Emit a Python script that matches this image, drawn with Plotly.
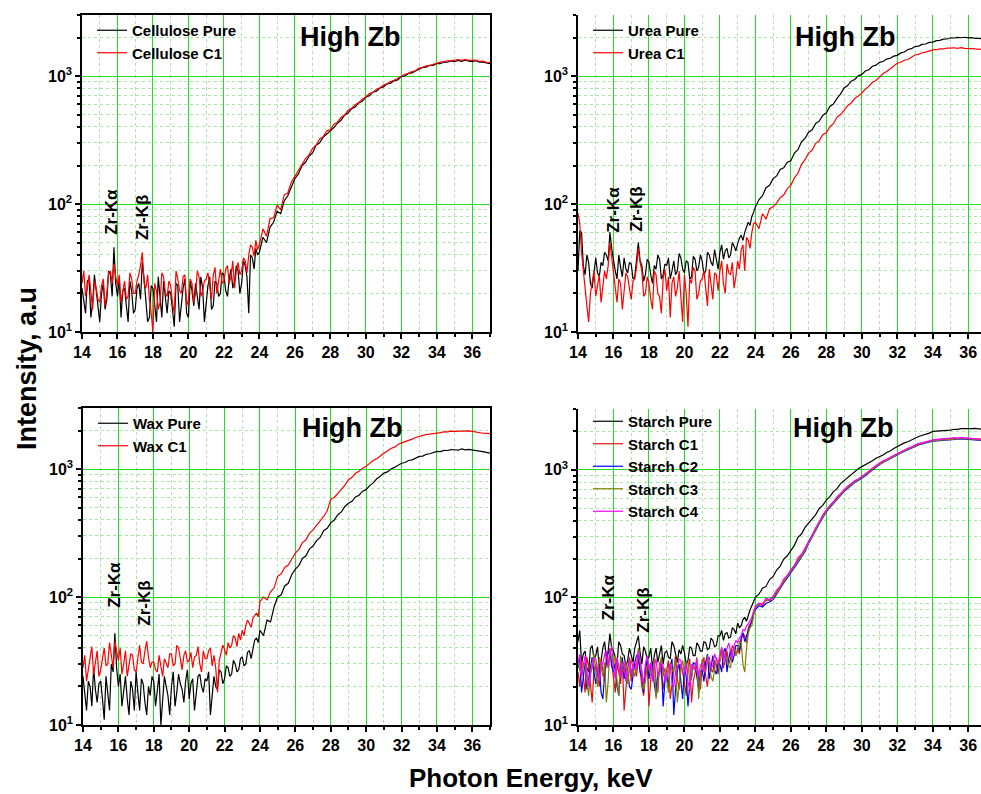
import plotly.graph_objects as go

# Photon energy channels (keV): 0.1 keV below 24 keV, 0.2 keV above
energy_lo = [round(14.0 + 0.1 * i, 1) for i in range(100)]
energy_hi = [round(24.0 + 0.2 * i, 1) for i in range(66)]
energy = energy_lo + energy_hi

cell_pure = [
22, 17, 14, 25, 26, 13, 17, 28, 21, 16, 12, 20, 24, 15, 18, 30, 28, 19, 46, 24,
19, 26, 13, 21, 22, 16, 12, 25, 21, 14, 15, 22, 24, 18, 35, 26, 18, 12, 13, 23,
22, 16, 12, 27, 19, 13, 25, 18, 14, 21, 20, 15, 11, 24, 23, 12, 17, 22, 26, 14,
13, 25, 21, 16, 24, 19, 15, 27, 22, 12, 18, 23, 27, 15, 16, 25, 24, 19, 20, 29,
28, 21, 19, 26, 31, 22, 25, 33, 30, 20, 24, 36, 33, 27, 14, 40, 38, 31, 45, 40,
42, 55, 50, 66, 72, 88, 84, 106, 116, 138,
158, 172, 199, 212, 236, 252, 288, 301, 334, 352, 372, 396, 428, 451, 494,
515, 556, 574, 616, 635, 684, 703, 748, 762, 806, 822, 868, 879, 922, 934,
992, 1004, 1048, 1058, 1096, 1132, 1168, 1172, 1214, 1212, 1256, 1248, 1288, 1282, 1312,
1294, 1326, 1304, 1336, 1308, 1296, 1316, 1284, 1286, 1262, 1250]
cell_c1 = [
24, 30, 19, 22, 28, 20, 15, 25, 22, 18, 17, 23, 26, 16, 20, 29, 30, 24, 34, 27,
23, 28, 17, 21, 25, 18, 19, 29, 26, 20, 20, 25, 28, 33, 42, 24, 22, 28, 18, 14,
10, 24, 21, 15, 17, 29, 27, 20, 19, 25, 23, 17, 14, 30, 26, 21, 20, 27, 28, 16,
18, 26, 24, 17, 20, 30, 27, 19, 21, 25, 26, 29, 22, 18, 28, 32, 20, 26, 31, 24,
25, 31, 33, 24, 27, 36, 22, 30, 35, 28, 30, 38, 36, 29, 40, 48, 46, 39, 52, 44,
48, 64, 56, 77, 78, 98, 90, 118, 122, 148,
164, 184, 202, 226, 242, 272, 288, 322, 336, 372, 381, 420, 436, 474, 496,
540, 560, 598, 620, 660, 686, 730, 746, 790, 810, 850, 870, 906, 926, 960,
1000, 1032, 1050, 1086, 1100, 1156, 1166, 1200, 1210, 1240, 1260, 1286, 1296, 1316, 1314,
1330, 1346, 1324, 1350, 1326, 1324, 1334, 1300, 1306, 1280, 1272]

urea_pure = [
30, 62, 60, 33, 28, 40, 35, 24, 22, 31, 38, 29, 27, 35, 33, 42, 40, 36, 60, 45,
36, 30, 26, 40, 32, 27, 38, 31, 29, 35, 34, 26, 27, 38, 50, 36, 33, 25, 28, 37,
35, 28, 24, 33, 31, 40, 37, 26, 28, 34, 33, 38, 26, 30, 36, 28, 30, 41, 38, 31,
29, 36, 35, 26, 27, 39, 37, 30, 32, 40, 36, 28, 30, 42, 40, 35, 33, 44, 38, 31,
42, 48, 37, 43, 45, 38, 40, 50, 47, 43, 49, 54, 57, 52, 60, 66, 72, 68, 80, 86,
95, 108, 116, 134, 140, 158, 166, 186, 192, 212,
218, 250, 266, 306, 326, 364, 380, 426, 444, 492, 516, 578, 604, 668, 722,
808, 842, 912, 940, 1004, 1030, 1096, 1120, 1192, 1216, 1280, 1300, 1356, 1378, 1430,
1452, 1516, 1540, 1612, 1636, 1700, 1712, 1766, 1780, 1832, 1842, 1892, 1898, 1942, 1948,
1990, 1982, 2004, 1992, 2010, 1988, 1994, 1966, 1970, 1942, 1935]
urea_c1 = [
85, 70, 42, 28, 22, 16, 12, 20, 25, 30, 19, 24, 28, 17, 22, 30, 26, 33, 50, 38,
30, 22, 17, 26, 24, 15, 20, 29, 27, 21, 18, 25, 26, 32, 45, 35, 30, 19, 20, 27,
24, 18, 15, 30, 28, 20, 19, 14, 26, 31, 21, 27, 13, 24, 27, 19, 22, 30, 18, 12,
28, 20, 11, 26, 24, 32, 30, 18, 20, 25, 26, 30, 22, 16, 31, 24, 18, 29, 28, 21,
30, 36, 24, 20, 34, 29, 28, 35, 22, 27, 36, 31, 44, 48, 30, 55, 52, 45, 60, 70,
72, 64, 84, 76, 92, 95, 102, 112, 118, 132,
140, 160, 174, 204, 222, 250, 264, 298, 312, 348, 360, 402, 424, 476, 500,
540, 586, 616, 668, 698, 735, 792, 830, 894, 924, 980, 1046, 1084, 1142, 1190,
1260, 1282, 1330, 1346, 1400, 1460, 1476, 1520, 1536, 1576, 1600, 1606, 1630, 1628, 1652,
1650, 1664, 1648, 1668, 1646, 1652, 1640, 1628, 1624, 1606, 1600]

wax_pure = [
24, 17, 13, 22, 20, 14, 28, 19, 15, 21, 22, 16, 11, 24, 18, 13, 30, 26, 52, 28,
20, 25, 14, 19, 24, 16, 12, 22, 19, 13, 26, 18, 13, 23, 21, 15, 12, 20, 17, 24,
22, 14, 18, 25, 10, 16, 24, 20, 17, 12, 20, 26, 14, 18, 25, 21, 19, 15, 22, 27,
16, 21, 23, 13, 19, 24, 25, 20, 18, 23, 22, 26, 12, 18, 24, 20, 19, 27, 26, 21,
23, 29, 28, 24, 25, 32, 30, 26, 27, 33, 34, 29, 30, 37, 38, 33, 40, 46, 48, 44,
55, 50, 66, 64, 84, 100, 104, 122, 128, 150,
165, 176, 200, 210, 238, 250, 276, 292, 330, 344, 380, 400, 440, 462, 510,
540, 560, 606, 624, 672, 690, 742, 780, 840, 878, 930, 950, 1000, 1030, 1064,
1110, 1124, 1166, 1180, 1226, 1255, 1262, 1304, 1316, 1352, 1375, 1368, 1400, 1396, 1420,
1415, 1404, 1438, 1412, 1424, 1415, 1396, 1382, 1366, 1350, 1330]
wax_c1 = [
28, 35, 22, 27, 33, 41, 25, 30, 38, 24, 27, 33, 40, 29, 30, 44, 36, 28, 45, 37,
32, 40, 25, 30, 38, 24, 29, 36, 35, 27, 26, 33, 42, 31, 30, 38, 45, 34, 28, 31,
31, 27, 26, 35, 29, 24, 33, 30, 28, 36, 36, 29, 30, 42, 40, 33, 27, 35, 38, 31,
32, 37, 28, 34, 35, 41, 30, 26, 38, 33, 33, 38, 40, 29, 35, 28, 18, 32, 38, 42,
39, 35, 44, 40, 42, 50, 48, 41, 52, 46, 55, 50, 60, 66, 62, 58, 68, 72, 75, 70,
92, 100, 95, 110, 118, 145, 152, 170, 178, 198,
220, 236, 266, 280, 314, 335, 362, 398, 426, 472, 580, 600, 646, 686, 748,
825, 862, 926, 962, 1016, 1050, 1108, 1166, 1204, 1276, 1330, 1382, 1446, 1484, 1556,
1600, 1634, 1686, 1712, 1766, 1800, 1822, 1864, 1874, 1904, 1910, 1926, 1954, 1952, 1980,
1970, 1974, 1996, 1978, 1986, 1970, 1944, 1934, 1904, 1902, 1890]

starch_pure = [
45, 55, 30, 36, 38, 28, 26, 40, 42, 33, 35, 41, 28, 32, 40, 45, 33, 38, 52, 40,
38, 33, 30, 45, 42, 36, 35, 29, 32, 40, 36, 31, 40, 44, 50, 37, 30, 41, 38, 33,
34, 40, 28, 35, 40, 31, 36, 42, 30, 37, 38, 34, 33, 45, 42, 36, 31, 39, 36, 42,
37, 30, 32, 41, 40, 35, 35, 44, 42, 38, 38, 45, 44, 39, 40, 48, 46, 41, 42, 50,
50, 55, 46, 52, 53, 48, 49, 58, 56, 52, 63, 58, 60, 67, 70, 65, 74, 80, 86, 92,
100, 106, 118, 122, 138, 146, 164, 176, 200, 212,
235, 256, 296, 314, 354, 380, 414, 446, 498, 526, 580, 616, 676, 712, 780,
825, 868, 924, 964, 1018, 1060, 1096, 1150, 1180, 1232, 1270, 1306, 1370, 1404, 1468,
1520, 1560, 1626, 1660, 1726, 1770, 1824, 1856, 1912, 1940, 2000, 2008, 2036, 2030, 2058,
2050, 2080, 2074, 2104, 2098, 2120, 2104, 2112, 2088, 2080, 2070]
starch_c1 = [
26, 20, 32, 24, 18, 34, 29, 21, 15, 27, 30, 25, 20, 33, 27, 22, 35, 28, 40, 31,
24, 18, 30, 26, 21, 32, 13, 20, 28, 34, 22, 30, 29, 24, 34, 27, 20, 17, 26, 31,
14, 23, 28, 32, 22, 18, 31, 26, 19, 24, 27, 32, 16, 21, 29, 35, 23, 19, 30, 26,
22, 17, 28, 33, 15, 22, 26, 30, 23, 19, 29, 34, 24, 20, 31, 27, 26, 32, 30, 25,
34, 39, 28, 32, 38, 30, 33, 42, 40, 35, 40, 36, 46, 52, 50, 44, 58, 62, 66, 74,
82, 90, 86, 98, 94, 102, 110, 122, 136, 148,
162, 178, 196, 216, 236, 275, 305, 345, 390, 435, 480, 520, 560, 605, 650,
695, 735, 775, 815, 845, 875, 920, 970, 1020, 1070, 1120, 1160, 1200, 1240, 1290,
1340, 1380, 1420, 1460, 1500, 1560, 1590, 1620, 1650, 1680, 1710, 1720, 1730, 1740, 1750,
1760, 1770, 1765, 1775, 1770, 1760, 1755, 1745, 1735, 1730, 1720]
starch_c2 = [
28, 35, 18, 24, 31, 19, 23, 30, 34, 26, 21, 27, 29, 18, 16, 25, 32, 37, 38, 29,
26, 31, 20, 17, 30, 34, 23, 28, 27, 20, 19, 24, 31, 35, 36, 26, 24, 18, 28, 33,
23, 29, 30, 21, 17, 25, 26, 31, 14, 22, 25, 20, 29, 33, 12, 19, 27, 30, 21, 16,
28, 24, 14, 21, 24, 31, 30, 23, 19, 26, 27, 22, 31, 36, 23, 28, 35, 27, 25, 31,
30, 26, 37, 40, 26, 33, 39, 31, 35, 42, 42, 38, 48, 53, 45, 50, 56, 60, 64, 76,
80, 86, 84, 90, 92, 96, 106, 118, 130, 142,
155, 170, 188, 208, 228, 265, 295, 335, 378, 422, 468, 505, 545, 590, 632,
675, 715, 755, 795, 825, 855, 900, 950, 1000, 1050, 1100, 1140, 1180, 1220, 1270,
1320, 1360, 1400, 1440, 1480, 1540, 1570, 1600, 1630, 1655, 1680, 1690, 1700, 1710, 1720,
1730, 1735, 1740, 1745, 1740, 1735, 1725, 1715, 1705, 1700, 1690]
starch_c3 = [
33, 27, 25, 31, 29, 22, 17, 26, 31, 36, 26, 20, 34, 29, 24, 31, 15, 22, 39, 33,
30, 35, 22, 17, 35, 28, 26, 31, 21, 27, 33, 27, 24, 30, 40, 32, 27, 19, 22, 29,
30, 24, 25, 33, 16, 21, 29, 34, 24, 28, 22, 18, 31, 27, 26, 33, 15, 21, 28, 32,
25, 30, 31, 22, 23, 29, 28, 34, 16, 24, 33, 28, 26, 35, 30, 24, 22, 27, 34, 30,
31, 36, 39, 33, 34, 29, 28, 37, 41, 35, 38, 45, 44, 30, 26, 40, 52, 58, 60, 72,
84, 88, 90, 94, 97, 99, 108, 120, 133, 146,
160, 175, 194, 212, 232, 270, 300, 340, 385, 430, 475, 512, 552, 598, 642,
685, 725, 765, 805, 835, 865, 910, 960, 1010, 1060, 1110, 1150, 1190, 1230, 1280,
1330, 1370, 1410, 1450, 1490, 1550, 1580, 1610, 1640, 1665, 1695, 1705, 1715, 1725, 1735,
1745, 1750, 1755, 1760, 1755, 1750, 1740, 1730, 1720, 1715, 1705]
starch_c4 = [
30, 36, 24, 29, 35, 27, 20, 25, 28, 33, 33, 28, 22, 31, 30, 36, 38, 29, 36, 42,
28, 23, 34, 29, 24, 30, 31, 22, 27, 33, 25, 30, 32, 27, 38, 31, 26, 21, 30, 35,
27, 31, 22, 29, 33, 24, 25, 31, 29, 22, 24, 28, 30, 21, 20, 26, 28, 33, 32, 25,
26, 31, 22, 19, 30, 28, 27, 33, 24, 29, 31, 26, 27, 33, 34, 28, 29, 36, 33, 30,
36, 41, 32, 35, 40, 44, 38, 34, 42, 46, 44, 48, 50, 56, 55, 60, 62, 66, 70, 78,
86, 90, 88, 98, 96, 102, 114, 122, 140, 148,
166, 178, 204, 218, 244, 280, 306, 352, 390, 444, 485, 528, 562, 614, 652,
700, 746, 778, 826, 848, 885, 936, 976, 1036, 1074, 1130, 1176, 1206, 1256, 1296,
1350, 1396, 1428, 1476, 1506, 1570, 1606, 1626, 1664, 1688, 1720, 1736, 1738, 1756, 1758,
1770, 1786, 1772, 1790, 1778, 1770, 1770, 1752, 1748, 1738, 1730]

panels = [
    [("Cellulose Pure", cell_pure, "#000000"), ("Cellulose C1", cell_c1, "#ff0000")],
    [("Urea Pure", urea_pure, "#000000"), ("Urea C1", urea_c1, "#ff0000")],
    [("Wax Pure", wax_pure, "#000000"), ("Wax C1", wax_c1, "#ff0000")],
    [("Starch Pure", starch_pure, "#000000"), ("Starch C1", starch_c1, "#e01010"),
     ("Starch C2", starch_c2, "#0000ff"), ("Starch C3", starch_c3, "#808000"),
     ("Starch C4", starch_c4, "#ff00ff")],
]

W, H = 981, 794
FONT = "Arial, 'Liberation Sans', sans-serif"

# plot-area pixel boxes (left, right, top, bottom)
boxes = [(82, 490, 15, 332), (578, 981, 15, 332), (83, 490, 408, 725), (578, 981, 409, 725)]
xranges = [[14, 37], [14, 36.72], [14, 37], [14, 36.72]]
legend_top = [14, 14, 407, 405]

fig = go.Figure()
minor_y = [v * 10 ** d for d in (1, 2, 3) for v in range(2, 10) if v * 10 ** d <= 3000]

for i, series in enumerate(panels):
    k = "" if i == 0 else str(i + 1)
    for name, vals, col in series:
        fig.add_trace(go.Scatter(
            x=energy, y=vals, mode="lines", name=name,
            line=dict(color=col, width=1.2),
            xaxis="x" + k, yaxis="y" + k,
            legend="legend" + k,
        ))
    l, r, t, b = boxes[i]
    fig.layout["xaxis" + k] = dict(
        domain=[l / W, r / W], anchor="y" + k, range=xranges[i], automargin=False,
        tick0=14, dtick=2, ticks="outside", ticklen=5, tickwidth=1.5, tickcolor="black",
        showline=True, linecolor="black", linewidth=1.5, mirror=(i in (0, 2)),
        showgrid=True, gridcolor="#22dd22", gridwidth=1, zeroline=False,
        minor=dict(tick0=15, dtick=2, ticks="outside", ticklen=3, tickcolor="black",
                   showgrid=True, gridcolor="#a8e6a8", griddash="dot", gridwidth=1),
        tickfont=dict(family=FONT, size=16, color="black", weight="bold"),
    )
    fig.layout["yaxis" + k] = dict(
        domain=[1 - b / H, 1 - t / H], anchor="x" + k, type="log", range=[1, 3.477],
        automargin=False,
        tickmode="array", tickvals=[10, 100, 1000],
        ticktext=["10<sup>1</sup>", "10<sup>2</sup>", "10<sup>3</sup>"],
        ticks="outside", ticklen=5, tickwidth=1.5, tickcolor="black",
        showline=True, linecolor="black", linewidth=1.5, mirror=(i in (0, 2)),
        showgrid=True, gridcolor="#22dd22", gridwidth=1, zeroline=False,
        minor=dict(tickmode="array", tickvals=minor_y, ticks="outside", ticklen=3,
                   tickcolor="black", showgrid=True, gridcolor="#a8e6a8",
                   griddash="dot", gridwidth=1),
        tickfont=dict(family=FONT, size=16, color="black", weight="bold"),
    )
    fig.layout["legend" + k] = dict(
        x=(l + 10) / W, y=1 - legend_top[i] / H, xanchor="left", yanchor="top",
        bgcolor="rgba(0,0,0,0)", borderwidth=0, tracegroupgap=0,
        font=dict(family=FONT, size=15, color="black", weight="bold"),
    )

annots = []
hz = [(350, 37), (845, 37), (352, 428), (843, 428)]
for (cx, cy) in hz:
    annots.append(dict(text="High Zb", x=cx / W, y=1 - cy / H, xref="paper", yref="paper",
                       showarrow=False, xanchor="center", yanchor="middle",
                       font=dict(family=FONT, size=27, color="black", weight="bold")))

zr = [
    ("", 15.7, 1.94, 17.38, 1.898),
    ("2", 15.96, 1.953, 17.3, 1.96),
    ("3", 15.8, 2.094, 17.43, 1.953),
    ("4", 15.69, 2.0, 17.72, 1.904),
]
for k, xa, ya, xb, yb in zr:
    for txt, xx, yy in (("Zr-K\u03b1", xa, ya), ("Zr-K\u03b2", xb, yb)):
        annots.append(dict(text=txt, x=xx, y=yy, xref="x" + k, yref="y" + k,
                           showarrow=False, textangle=-90, xanchor="center", yanchor="middle",
                           font=dict(family=FONT, size=17, color="black", weight="bold")))

annots.append(dict(text="Intensity, a.u", x=27 / W, y=1 - 369 / H, xref="paper", yref="paper",
                   showarrow=False, textangle=-90, xanchor="center", yanchor="middle",
                   font=dict(family=FONT, size=27, color="black", weight="bold")))
annots.append(dict(text="Photon Energy, keV", x=531 / W, y=1 - 778 / H, xref="paper", yref="paper",
                   showarrow=False, xanchor="center", yanchor="middle",
                   font=dict(family=FONT, size=26, color="black", weight="bold")))

fig.update_layout(
    width=W, height=H, margin=dict(l=0, r=0, t=0, b=0),
    paper_bgcolor="white", plot_bgcolor="white",
    annotations=annots, showlegend=True,
)

fig.write_html("out.html")
